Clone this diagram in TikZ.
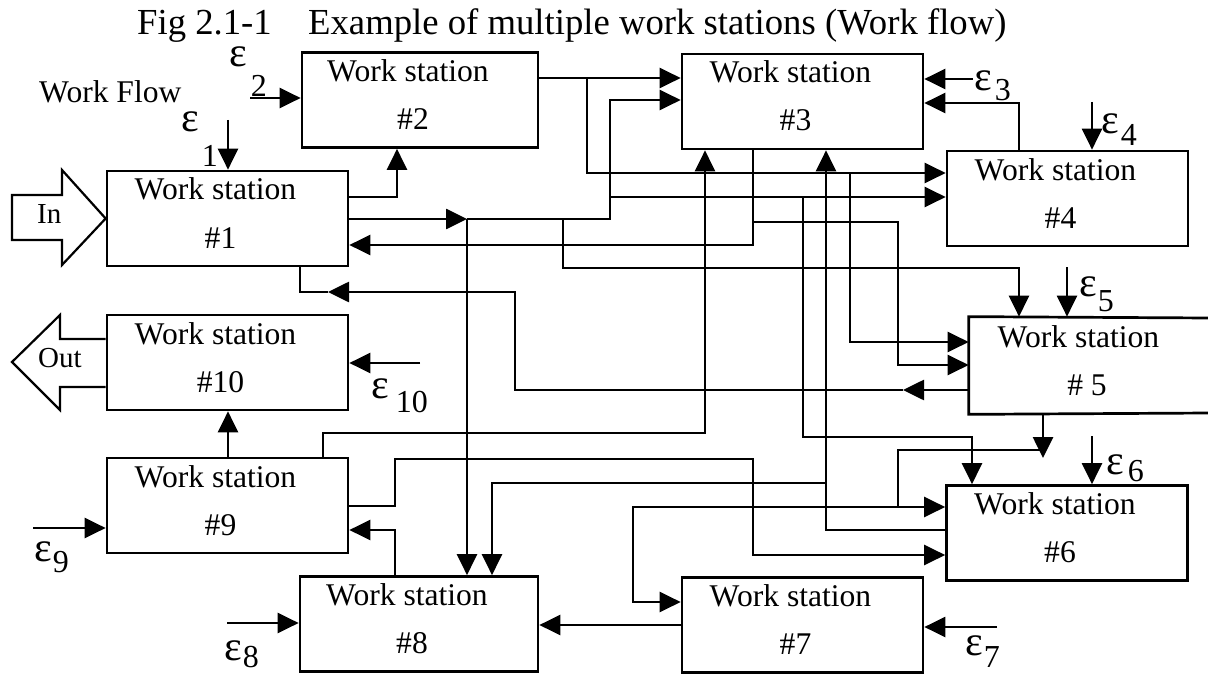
\documentclass[tikz,border=0pt]{standalone}
\usepackage{fontspec}
\setmainfont{Liberation Serif}
\usetikzlibrary{arrows.meta}
\newcommand\subf{\fontsize{32}{36}\selectfont}
\newcommand\wsbox[5]{%
  \node[ws, minimum width=#5pt] (#1) at (#2,#3) {};
  \node[lbl] (#1a) at (#2-12,#3-18.5) {Work station};
  \node[lbl] (#1b) at (#2-7,#3+29.5) {#4};
}
\newcommand\epslab[6]{% name, x, y, kern, lower, sub
  \node[eps] (#1) at (#2,#3) {ε\kern#4pt\raisebox{-#5pt}{\subf #6}};
}
\begin{document}
\begin{tikzpicture}[x=1pt,y=-1pt,
  ws/.style={draw, line width=2.7pt, minimum height=95pt, inner sep=0pt},
  ln/.style={line width=2.7pt},
  thin/.style={line width=2.3pt},
  arr/.style={ln, -{Triangle[length=21pt,width=20pt]}},
  earr/.style={thin, -{Triangle[length=21pt,width=20pt]}},
  lbl/.style={font=\fontsize{31.6}{36}\selectfont, inner sep=0pt, anchor=base},
  eps/.style={font=\fontsize{42}{46}\selectfont, inner sep=0pt, anchor=base west},
  ttl/.style={font=\fontsize{36.7}{42}\selectfont, inner sep=0pt, anchor=base west}]
\useasboundingbox[fill=white] (0,0) rectangle (1208,674);

% title
\node[ttl] (fig) at (137,35) {Fig 2.1-1};
\node[ttl] (title) at (308,35) {Example of multiple work stations (Work flow)};
\node[lbl, anchor=base west] (wf) at (39,103) {Work Flow};

% boxes
\wsbox{ws1}{227.5}{218.5}{\#1}{241}
\wsbox{ws2}{420}{100}{\#2}{236}
\wsbox{ws3}{802.5}{101.5}{\#3}{241}
\wsbox{ws4}{1067.5}{198.5}{\#4}{241}
\node[ws, draw=none, minimum width=241pt] (ws5) at (1090.5,365.5) {};
\draw[ln] (1210,318) -- (ws5.north west) -- (ws5.south west) -- (1210,413);
\node[lbl] (ws5a) at (1078.5,347) {Work station};
\node[lbl] (ws5b) at (1087,395) {\# 5};
\wsbox{ws6}{1067}{533}{\#6}{241}
\wsbox{ws7}{802.5}{625}{\#7}{241}
\wsbox{ws8}{419}{624}{\#8}{238}
\wsbox{ws9}{227.5}{505.5}{\#9}{241}
\wsbox{ws10}{227.5}{362.5}{\#10}{241}

% In / Out
\draw[line width=2.2pt, line join=miter] (12,195) -- (62,195) -- (62,170) -- (ws1.west) -- (62,265) -- (62,240) -- (12,240) -- cycle;
\node[font=\fontsize{29}{32}\selectfont, inner sep=0pt, anchor=base west] (in) at (37,223) {In};
\draw[line width=2.2pt, line join=miter] (ws10.west |- 0,339) -- (60,339) -- (60,315) -- (12,362) -- (60,410) -- (60,387) -- (ws10.west |- 0,387);
\node[font=\fontsize{29}{32}\selectfont, inner sep=0pt, anchor=base west] (out) at (38,367) {Out};

% connectors
\coordinate (j1) at (467,219);
\draw[arr] (ws1.east |- 0,197) -- (397,197) -- (ws2.south -| 397,0);
\draw[arr] (ws1.east |- 0,219) -- (j1);
\draw[arr] (j1) -- (ws8.north -| j1);
\draw[arr] (j1) -- (610,219) -- (610,100) -- (ws3.west |- 0,100);
\draw[arr] (610,197) -- (ws4.west |- 0,197);
\draw[arr] (563,219) -- (563,268) -- (1019,268) -- (ws5.north -| 1019,0);
\draw[arr] (803,197) -- (803,437) -- (972,437) -- (ws6.north -| 972,0);

\draw[arr] (ws2.east |- 0,78) -- (ws3.west |- 0,78);
\draw[arr] (587,78) -- (587,173) -- (ws4.west |- 0,173);
\draw[arr] (850,173) -- (850,342) -- (ws5.west |- 0,342);

\draw[arr] (ws3.south -| 753,0) -- (753,245) -- (ws1.east |- 0,245);
\draw[arr] (753,222) -- (898,222) -- (898,365) -- (ws5.west |- 0,365);

\draw[arr] (ws4.north -| 1019,0) -- (1019,103) -- (ws3.east |- 0,103);

\coordinate (m1) at (903,390);
\coordinate (m2) at (328,292);
\draw[arr] (ws5.west |- m1) -- (m1);
\draw[arr] (m1) -- (515,390) -- (515,292) -- (m2);
\draw[ln] (m2) -- (300,292) -- (ws1.south -| 300,0);

\coordinate (j5) at (1043,458);
\draw[arr] (ws5.south -| j5) -- (j5);
\draw[arr] (1043,450) -- (898,450) -- (898,507) -- (ws6.west |- 0,507);
\draw[arr] (898,507) -- (633,507) -- (633,602) -- (ws7.west |- 0,602);

\draw[arr] (ws6.west |- 0,530) -- (826,530) -- (ws3.south -| 826,0);
\draw[arr] (826,483) -- (492,483) -- (ws8.north -| 492,0);

\draw[arr] (ws7.west |- 0,625) -- (ws8.east |- 0,625);
\draw[arr] (ws8.north -| 395,0) -- (395,530) -- (ws9.east |- 0,530);
\draw[arr] (ws9.north -| 323,0) -- (323,433) -- (705,433) -- (ws3.south -| 705,0);
\draw[arr] (ws9.east |- 0,506) -- (395,506) -- (395,459) -- (753,459) -- (753,555) -- (ws6.west |- 0,555);
\draw[arr] (ws9.north -| 228,0) -- (ws10.south -| 228,0);

% disturbances
\draw[earr] (228,120) -- (ws1.north -| 228,0);
\draw[earr] (250,98) -- (ws2.west |- 0,98);
\draw[earr] (973,79) -- (ws3.east |- 0,79);
\draw[earr] (1092,102) -- (ws4.north -| 1092,0);
\draw[earr] (1067,267) -- (ws5.north -| 1067,0);
\draw[earr] (1092,436) -- (ws6.north -| 1092,0);
\draw[earr] (997,627) -- (ws7.east |- 0,627);
\draw[earr] (227,623) -- (ws8.west |- 0,623);
\draw[earr] (33,528) -- (ws9.west |- 0,528);
\draw[earr] (420,363) -- (ws10.east |- 0,363);

\epslab{e1}{181}{132}{3}{35}{1}
\epslab{e2}{229}{67}{4}{30}{2}
\epslab{e3}{974}{91}{3}{10}{3}
\epslab{e4}{1101}{134}{2}{12}{4}
\epslab{e5}{1079}{296}{1}{15}{5}
\epslab{e6}{1106}{474}{4}{7}{6}
\epslab{e7}{965}{655}{1}{12}{7}
\epslab{e8}{224}{660}{1}{7}{8}
\epslab{e9}{34}{561}{1}{11}{9}
\epslab{e10}{371}{398}{7}{14}{10}
\end{tikzpicture}
\end{document}
